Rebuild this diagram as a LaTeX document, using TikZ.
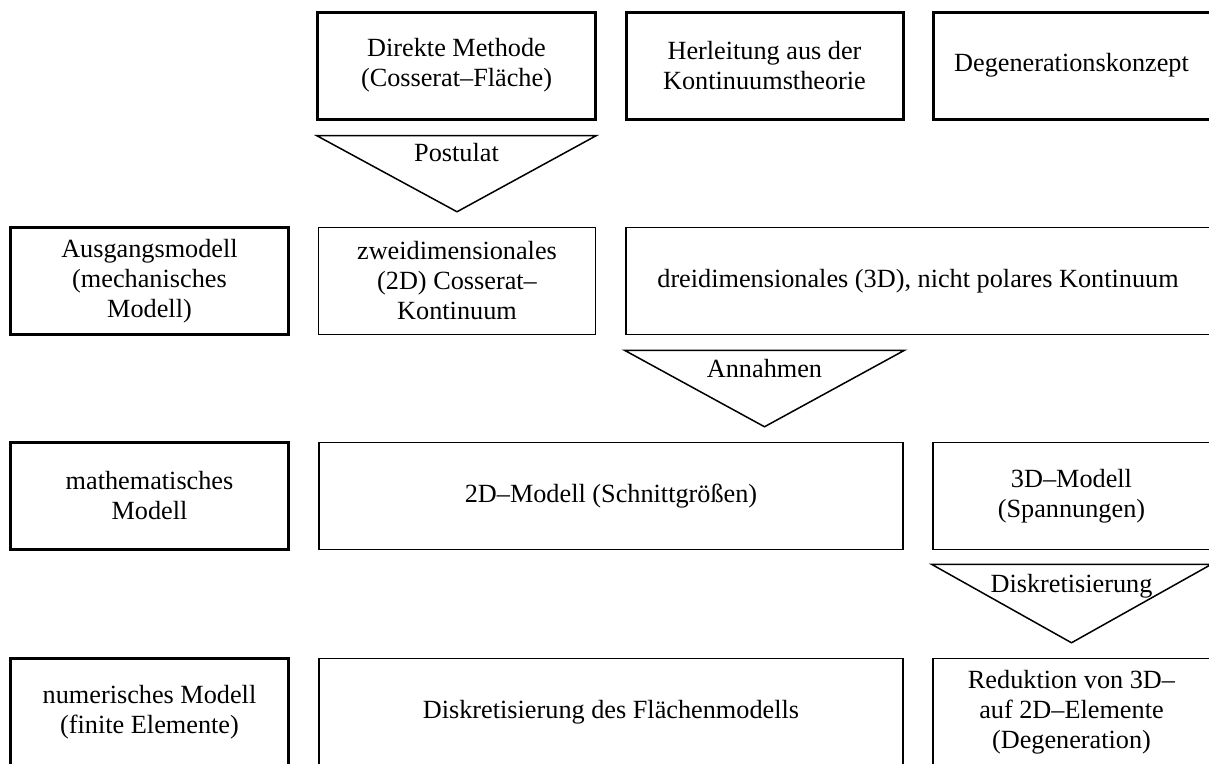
\documentclass[tikz,border=0pt]{standalone}
\usepackage{fontspec}
\setmainfont{Liberation Serif}
\usetikzlibrary{calc}

\begin{document}
\begin{tikzpicture}[x=0.4pt,y=-0.4pt,
  rahmen/.style={draw,line width=1.2pt,align=center,inner sep=0pt,
    minimum width=110.8pt,minimum height=42.8pt,font=\fontsize{10.5}{12}\selectfont},
  feld/.style={rahmen,line width=0.6pt},
  breit/.style={minimum width=233.6pt},
  keil/.style={draw,line width=0.6pt},
  marke/.style={anchor=base,inner sep=0pt,font=\fontsize{10.5}{12}\selectfont}]
% Bildausschnitt festlegen
\useasboundingbox (0,0) rectangle (1209,763);

% Obere Reihe: die drei Zugaenge
\node[rahmen] (direkt) at (456.5,65.5) {Direkte Methode\\(Cosserat--Fläche)};
\node[rahmen] (herleitung) at (764.5,65.5) {Herleitung aus der\\Kontinuumstheorie};
\node[rahmen] (degen) at (1071.5,65.5) {Degenerationskonzept};

% Zweite Reihe: Ausgangsmodell
\node[rahmen] (ausgang) at (149.5,281) {Ausgangsmodell\\(mechanisches\\Modell)};
\node[feld] (zweid) at (457,281) {zweidimensionales\\(2D) Cosserat--\\Kontinuum};
\node[feld,breit] (dreid) at (918,281) {dreidimensionales (3D), nicht polares Kontinuum};

% Dritte Reihe: mathematisches Modell
\node[rahmen] (mathe) at (149.5,496) {mathematisches\\Modell};
\node[feld,breit] (modzwei) at (611,496) {2D--Modell (Schnittgrößen)};
\node[feld] (moddrei) at (1071.5,496) {3D--Modell\\(Spannungen)};

% Vierte Reihe: numerisches Modell (unten abgeschnitten)
\node[rahmen] (numerik) at (149.5,712) {numerisches Modell\\(finite Elemente)};
\node[feld,breit] (flaeche) at (611,712) {Diskretisierung des Flächenmodells};
\node[feld] (redukt) at (1071.5,712) {Reduktion von 3D--\\auf 2D--Elemente\\(Degeneration)};

% Keile zwischen den Reihen
\draw[keil] ($(direkt.south west)+(0,15)$) -- ($(direkt.south east)+(0,15)$)
  -- ($(zweid.north)+(0,-15)$) -- cycle;
\node[marke] (postulat) at ($(direkt.south)+(0,41)$) {Postulat};

\draw[keil] ($(herleitung.south west |- dreid.south)+(0,15)$)
  -- ($(herleitung.south east |- dreid.south)+(0,15)$)
  -- ($(herleitung.south |- modzwei.north)+(0,-15)$) -- cycle;
\node[marke] (annahmen) at ($(herleitung.south |- dreid.south)+(0,42)$) {Annahmen};

\draw[keil] ($(degen.south west |- moddrei.south)+(0,14)$)
  -- ($(degen.south east |- moddrei.south)+(0,14)$)
  -- ($(degen.south |- redukt.north)+(0,-15)$) -- cycle;
\node[marke] (diskret) at ($(degen.south |- moddrei.south)+(0,42)$) {Diskretisierung};
\end{tikzpicture}
\end{document}
